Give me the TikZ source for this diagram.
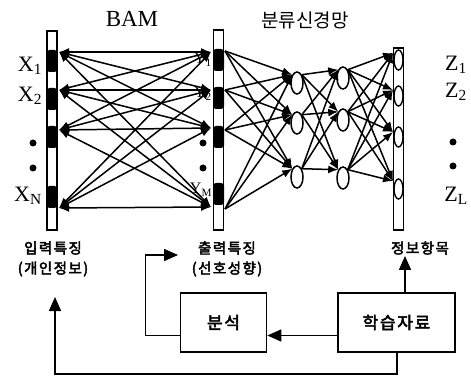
\documentclass[tikz,border=0pt]{standalone}
\usepackage{fontspec}
\setmainfont{Liberation Serif}
\newfontfamily\kr[AutoFakeBold=2]{Noto Sans CJK KR}
\newfontfamily\krs[AutoFakeBold=3,LetterSpace=10]{Noto Sans CJK KR}
\usetikzlibrary{arrows.meta,shapes.geometric,calc}
\begin{document}
\begin{tikzpicture}[x=1pt,y=-1pt,
  bar/.style={draw,fill=white,line width=1.6pt,inner sep=0pt,minimum width=10pt},
  blk/.style={fill=black,rounded corners=3pt,inner sep=0pt,minimum width=11pt,minimum height=22pt},
  oval/.style={ellipse,draw,fill=white,line width=1.4pt,inner sep=0pt,minimum width=9pt,minimum height=20pt},
  hid/.style={ellipse,draw,fill=white,line width=1.5pt,inner sep=0pt,minimum width=12pt,minimum height=22pt},
  bam/.style={line width=1.5pt,{Latex[length=10pt,width=8pt]}-{Latex[length=10pt,width=8pt]}},
  fwd/.style={line width=1.5pt,-{Latex[length=10pt,width=8pt]}},
  arr/.style={line width=1.5pt,-{Triangle[length=14pt,width=12pt]}},
  box/.style={draw,line width=1.6pt,inner sep=0pt},
  lat/.style={font=\fontsize{22}{22}\selectfont,inner sep=0pt},
  krl/.style={font=\krs\bfseries\fontsize{14.5}{15}\selectfont,inner sep=0pt},
  dot/.style={circle,fill=black,inner sep=0pt,minimum size=7pt}]
\useasboundingbox (0,0) rectangle (471,379);

% titles
\node[font=\fontsize{23}{23}\selectfont,inner sep=0pt] (tbam) at (132,19) {BAM};
\node[font=\kr\fontsize{19}{19}\selectfont,inner sep=0pt] (tcls) at (305,20) {분류신경망};

% bars
\node[bar,minimum height=199pt] (lbar) at (52,130.5) {};
\node[bar,minimum height=200pt] (mbar) at (218.5,130) {};
\node[bar,minimum height=182pt] (obar) at (398.5,139) {};

% black blocks
\foreach \y [count=\k] in {61,99,137,197} \node[blk] (lb\k) at (52,\y) {};
\foreach \y [count=\k] in {60,98,137,194} \node[blk] (mb\k) at (218.5,\y) {};
% output ovals
\foreach \y [count=\k] in {60,96,137,189} \node[oval] (ov\k) at (398.5,\y) {};

% Y labels (partly hidden)
\node[font=\fontsize{16}{16}\selectfont,inner sep=0pt] (y1) at (203,60) {Y\textsubscript{1}};
\node[font=\fontsize{16}{16}\selectfont,inner sep=0pt] (y2) at (203,94) {Y\textsubscript{2}};
\node[font=\fontsize{16}{16}\selectfont,inner sep=0pt] (ym) at (201,190) {Y\textsubscript{M}};

% connection points
\foreach \y [count=\k] in {52,90,130,208} \coordinate (lp\k) at (59,\y);
\foreach \y [count=\k] in {52,90,128,207} \coordinate (mp\k) at (211,\y);
\foreach \y [count=\k] in {51,90,130,209} \coordinate (mq\k) at (225,\y);
\foreach \y [count=\k] in {53,90,132,181} \coordinate (op\k) at (393,\y);

% hidden layers
\foreach \y [count=\k] in {83,123,177} \node[hid] (ha\k) at (297,\y) {};
\foreach \y [count=\k] in {78,120,178} \node[hid] (hb\k) at (343,\y) {};

% BAM connections
\foreach \i in {1,...,4}
  \foreach \j in {1,...,4}
    \draw[bam] (lp\i) -- (mp\j);
% classifier connections
\foreach \i in {1,...,4}
  \foreach \j in {1,...,3}
    \draw[fwd] (mq\i) -- (ha\j.120);
\foreach \i in {1,...,3}
  \foreach \j in {1,...,3}
    \draw[fwd] (ha\i.60) -- (hb\j.120);
\foreach \i in {1,...,3}
  \foreach \j in {1,...,4}
    \draw[fwd] (hb\i.60) -- (op\j);

% X labels
\node[lat] (x1) at (30,66) {X\textsubscript{1}};
\node[lat] (x2) at (30,96) {X\textsubscript{2}};
\node[dot] (xd1) at (33,143) {};
\node[dot] (xd2) at (33,168) {};
\node[lat] (xn) at (28,196) {X\textsubscript{N}};
\node[dot] (yd1) at (203,143) {};
\node[dot] (yd2) at (203,168) {};
% Z labels
\node[lat] (z1) at (456,65) {Z\textsubscript{1}};
\node[lat] (z2) at (456,92) {Z\textsubscript{2}};
\node[dot] (zd1) at (453,142) {};
\node[dot] (zd2) at (453,166) {};
\node[lat] (zl) at (456,196) {Z\textsubscript{L}};

% bottom labels
\node[krl] (in1) at (53,248) {입력특징};
\node[krl] (in2) at (53,269) {(개인정보)};
\node[krl] (out1) at (227,248) {출력특징};
\node[krl] (out2) at (227,269) {(선호성향)};
\node[krl] (info) at (420,248) {정보항목};

% boxes
\node[box,minimum width=86pt,minimum height=59pt,font=\krs\bfseries\fontsize{17}{17}\selectfont] (bun) at (223.5,322.5) {분석};
\node[box,minimum width=117pt,minimum height=59pt,font=\krs\bfseries\fontsize{17}{17}\selectfont] (hak) at (396.5,322.5) {학습자료};

\coordinate (c1) at (178,255);
\coordinate (c2) at (55,297);
\coordinate (c3) at (405,256);

\draw[arr] ($(hak.west)+(0,13)$) -- ($(bun.east)+(0,13)$);
\draw[arr] ($(bun.west)+(0,13)$) -- ++(-34,0) |- (c1);
\draw[arr] ($(hak.north)+(8.5,0)$) -- (c3);
\draw[arr] ($(hak.south)+(0.5,0)$) -- ++(0,21) -| (c2);
\end{tikzpicture}
\end{document}
